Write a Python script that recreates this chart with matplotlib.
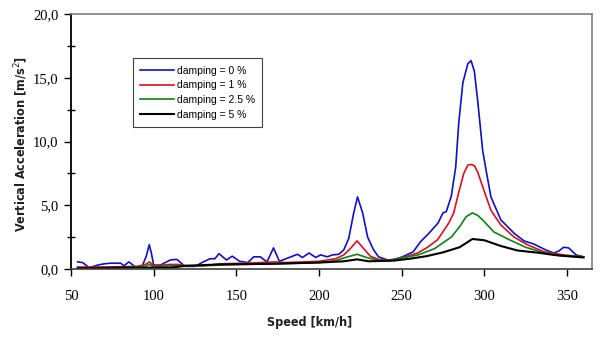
import numpy as np
import matplotlib
matplotlib.use("Agg")
import matplotlib.pyplot as plt
from matplotlib.ticker import MultipleLocator, FuncFormatter

# values
x_blue = [54, 57, 61, 66, 70, 74, 78, 80, 82, 85, 89, 93, 95.5, 97.3, 98.5, 100, 104,
          110, 114, 119, 125, 130, 134, 137, 139.5, 144, 147.5, 152, 157, 160.5, 164.5,
          168.5, 172.5, 176, 181, 187, 190, 194, 198, 201, 205, 208, 212, 215, 218, 221,
          223.3, 226.4, 229.4, 233, 236, 241.5, 244.5, 250.5, 257, 261.5, 266.5, 272,
          275, 277, 280, 282.7, 284.5, 287, 290, 292, 294, 296, 299, 301, 304, 310, 318,
          324, 330, 337, 342, 345, 348, 351, 355.5, 360]
y_blue = [0.55, 0.5, 0.1, 0.3, 0.4, 0.45, 0.45, 0.45, 0.25, 0.55, 0.15, 0.2, 1.0, 1.9, 1.3,
          0.3, 0.3, 0.7, 0.75, 0.2, 0.2, 0.55, 0.8, 0.8, 1.2, 0.7, 1.0, 0.6, 0.5, 0.95,
          0.95, 0.55, 1.65, 0.6, 0.85, 1.15, 0.9, 1.25, 0.9, 1.1, 0.95, 1.1, 1.15, 1.5,
          2.4, 4.4, 5.65, 4.4, 2.5, 1.5, 0.95, 0.7, 0.7, 0.95, 1.35, 2.15, 2.8, 3.6, 4.4,
          4.5, 5.7, 8.0, 11.4, 14.6, 16.1, 16.35, 15.5, 13.2, 9.3, 7.8, 5.65, 3.85, 2.8,
          2.2, 1.95, 1.5, 1.25, 1.4, 1.7, 1.65, 1.1, 0.95]

x_red = [54, 70, 90, 95, 97.5, 100, 110, 115, 120, 130, 140, 155, 165, 173, 180, 190, 200,
         210, 215, 219, 223, 227, 231, 236, 242, 247, 253.5, 259.7, 265.7, 271.8, 278.5,
         281.5, 284.5, 287.6, 290, 292, 294, 296, 299.7, 304, 310, 318, 326, 336, 348, 360]
y_red = [0.15, 0.15, 0.2, 0.35, 0.55, 0.25, 0.35, 0.35, 0.25, 0.25, 0.4, 0.45, 0.5, 0.55,
         0.5, 0.55, 0.6, 0.8, 1.1, 1.6, 2.2, 1.6, 1.0, 0.75, 0.7, 0.8, 1.0, 1.25, 1.7, 2.3,
         3.6, 4.4, 6.0, 7.5, 8.15, 8.2, 8.1, 7.6, 6.2, 4.6, 3.45, 2.5, 1.9, 1.35, 1.1, 0.95]

x_green = [54, 80, 95, 97.5, 100, 110, 130, 150, 175, 200, 210, 216, 223, 230, 236, 242,
           250, 260, 270, 280, 285, 289, 292.8, 296, 299, 305.8, 315, 325, 335, 345, 360]
y_green = [0.05, 0.1, 0.2, 0.35, 0.15, 0.25, 0.25, 0.35, 0.4, 0.5, 0.65, 0.9, 1.15, 0.85,
           0.7, 0.65, 0.85, 1.1, 1.6, 2.5, 3.3, 4.1, 4.4, 4.2, 3.85, 2.9, 2.3, 1.7, 1.3,
           1.05, 0.95]

x_black = [54, 80, 110, 120, 140, 170, 200, 215, 223, 230, 245, 255, 265, 275, 285, 292.8,
           300, 310, 320, 334, 342, 350, 360]
y_black = [0.05, 0.1, 0.1, 0.25, 0.35, 0.4, 0.5, 0.6, 0.75, 0.6, 0.65, 0.8, 1.0, 1.3, 1.7,
           2.35, 2.25, 1.8, 1.45, 1.25, 1.1, 1.0, 0.9]

series_labels = ["damping = 0 %", "damping = 1 %", "damping = 2.5 %", "damping = 5 %"]

fig = plt.figure(figsize=(6.02, 3.37), dpi=100)
ax = fig.add_axes([0.118, 0.202, 0.865, 0.756])

ax.plot(x_blue, y_blue, color="#1010c8", lw=1.2, label=series_labels[0])
ax.plot(x_red, y_red, color="#d81020", lw=1.2, label=series_labels[1])
ax.plot(x_green, y_green, color="#108018", lw=1.2, label=series_labels[2])
ax.plot(x_black, y_black, color="black", lw=1.5, label=series_labels[3])

ax.set_xlim(50, 365)
ax.set_ylim(0, 20)
ax.xaxis.set_major_locator(MultipleLocator(50))
ax.yaxis.set_major_locator(MultipleLocator(5))
ax.yaxis.set_minor_locator(MultipleLocator(2.5))
ax.yaxis.set_major_formatter(FuncFormatter(lambda v, p: f"{v:.1f}".replace(".", ",")))

for s in ("top", "right"):
    ax.spines[s].set_color("#808080")
    ax.spines[s].set_linewidth(1.2)
ax.spines["left"].set_color("black")
ax.spines["left"].set_linewidth(1.3)
ax.spines["bottom"].set_color("#404040")
ax.spines["bottom"].set_linewidth(1.2)

ax.tick_params(axis="both", which="major", direction="out", length=5, width=1,
               labelsize=10.5, labelfontfamily="Liberation Serif")
ax.tick_params(axis="y", which="major", pad=4)
ax.tick_params(axis="x", which="major", pad=10)
ax.tick_params(axis="y", which="minor", direction="inout", length=6, width=1)

lab_font = dict(family="DejaVu Sans", fontstretch="condensed", fontsize=9,
                fontweight="bold", color="#202020")
ax.set_ylabel("Vertical Acceleration [m/s$^2$]", **lab_font)
ax.set_xlabel("Speed [km/h]", **lab_font)
ax.yaxis.set_label_coords(-0.078, 0.49)
ax.xaxis.set_label_coords(0.459, -0.185)

leg = ax.legend(loc="upper left", bbox_to_anchor=(0.119, 0.827), borderaxespad=0,
                fancybox=False, framealpha=1, edgecolor="#404040",
                prop=dict(family="Liberation Sans", size=7.5),
                handlelength=3.2, handletextpad=0.3, labelspacing=0.45,
                borderpad=0.7)
leg.get_frame().set_linewidth(0.8)

fig.savefig("out.png", dpi=100)
